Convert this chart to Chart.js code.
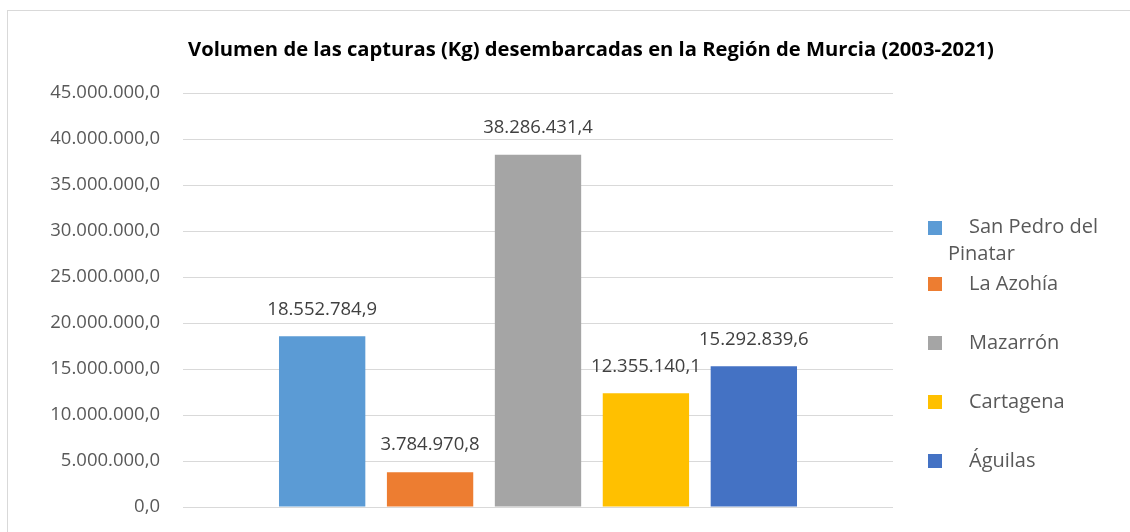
<!DOCTYPE html>
<html>
<head>
<meta charset="utf-8">
<script src="https://cdn.jsdelivr.net/npm/chart.js@4.4.1/dist/chart.umd.min.js"></script>
<style>
  html, body { margin: 0; padding: 0; background: #fff; }
  #wrap { width: 1130px; height: 532px; position: relative; }
</style>
</head>
<body>
<div id="wrap"><canvas id="capturasChart"></canvas></div>
<script>
const titulo = 'Volumen de las capturas (Kg) desembarcadas en la Región de Murcia (2003-2021)';
const puertos = ['San Pedro del Pinatar', 'La Azohía', 'Mazarrón', 'Cartagena', 'Águilas'];
const capturas = [18552784.9, 3784970.8, 38286431.4, 12355140.1, 15292839.6];
const colores = ['#5b9bd5', '#ed7d31', '#a5a5a5', '#ffc000', '#4472c4'];
const ejeMin = 0;
const ejeMax = 45000000;
const ejePaso = 5000000;

const FUENTE = '"Open Sans", Lato, sans-serif';

// 18552784.9 -> "18.552.784,9"
function formatoEs(v) {
  const [ent, dec] = Number(v).toFixed(1).split('.');
  return ent.replace(/\B(?=(\d{3})+(?!\d))/g, '.') + ',' + dec;
}

// Fondo, marco gris y título
const marcoPlugin = {
  id: 'marco',
  beforeDraw(chart) {
    const ctx = chart.ctx;
    ctx.save();
    ctx.fillStyle = '#fff';
    ctx.fillRect(0, 0, chart.width, chart.height);
    ctx.strokeStyle = '#d9d9d9';
    ctx.lineWidth = 1;
    ctx.strokeRect(7.5, 10.5, chart.width + 10, chart.height + 10);
    ctx.font = 'bold 20.2px ' + FUENTE;
    ctx.fillStyle = '#000';
    ctx.textAlign = 'center';
    ctx.textBaseline = 'middle';
    ctx.fillText(titulo, 591, 50);
    ctx.restore();
  },
};

// Etiquetas de valor encima de cada barra
const etiquetasPlugin = {
  id: 'etiquetas',
  afterDatasetsDraw(chart) {
    const ctx = chart.ctx;
    ctx.save();
    ctx.font = '18.5px ' + FUENTE;
    ctx.fillStyle = '#404040';
    ctx.textAlign = 'center';
    ctx.textBaseline = 'middle';
    chart.data.datasets.forEach((ds, i) => {
      const bar = chart.getDatasetMeta(i).data[0];
      ctx.fillText(formatoEs(ds.data[0]), bar.x, bar.y - 27);
    });
    ctx.restore();
  },
};

// Leyenda a la derecha (el primer nombre se parte en dos líneas, como en Excel)
const leyendaPlugin = {
  id: 'leyenda',
  afterDraw(chart) {
    const ctx = chart.ctx;
    const filas = [228, 284, 343, 402, 461];
    ctx.save();
    ctx.font = '20px ' + FUENTE;
    ctx.textBaseline = 'middle';
    chart.data.datasets.forEach((ds, i) => {
      const y = filas[i];
      ctx.fillStyle = ds.backgroundColor;
      ctx.fillRect(928, y - 7, 14, 14);
      ctx.fillStyle = '#595959';
      if (i === 0) {
        ctx.fillText('San Pedro del', 969, y - 1);
        ctx.fillText('Pinatar', 948, y + 26);
      } else {
        ctx.fillText(ds.label, 969, y);
      }
    });
    ctx.restore();
  },
};

const ctx = document.getElementById('capturasChart').getContext('2d');

new Chart(ctx, {
  type: 'bar',
  data: {
    labels: [''],
    datasets: puertos.map((nombre, i) => ({
      label: nombre,
      data: [capturas[i]],
      backgroundColor: colores[i],
      borderWidth: 0,
      categoryPercentage: 0.76,
      barPercentage: 0.8,
    })),
  },
  options: {
    responsive: true,
    maintainAspectRatio: false,
    animation: false,
    layout: {
      padding: { left: 0, right: 237, top: 93, bottom: 25 },
    },
    plugins: {
      legend: { display: false },
      tooltip: { enabled: false },
      title: { display: false },
    },
    scales: {
      x: {
        display: false,
      },
      y: {
        min: ejeMin,
        max: ejeMax,
        border: { display: false },
        grid: { color: '#d9d9d9', lineWidth: 1, drawTicks: false },
        ticks: {
          stepSize: ejePaso,
          padding: 23,
          color: '#595959',
          font: { family: FUENTE, size: 18.5 },
          callback: (v) => formatoEs(v),
        },
        afterFit: (scale) => {
          scale.width = 183;
          // el área del gráfico la fija layout.padding
          scale.paddingTop = 0;
          scale.paddingBottom = 0;
        },
      },
    },
  },
  plugins: [marcoPlugin, etiquetasPlugin, leyendaPlugin],
});
</script>
</body>
</html>
